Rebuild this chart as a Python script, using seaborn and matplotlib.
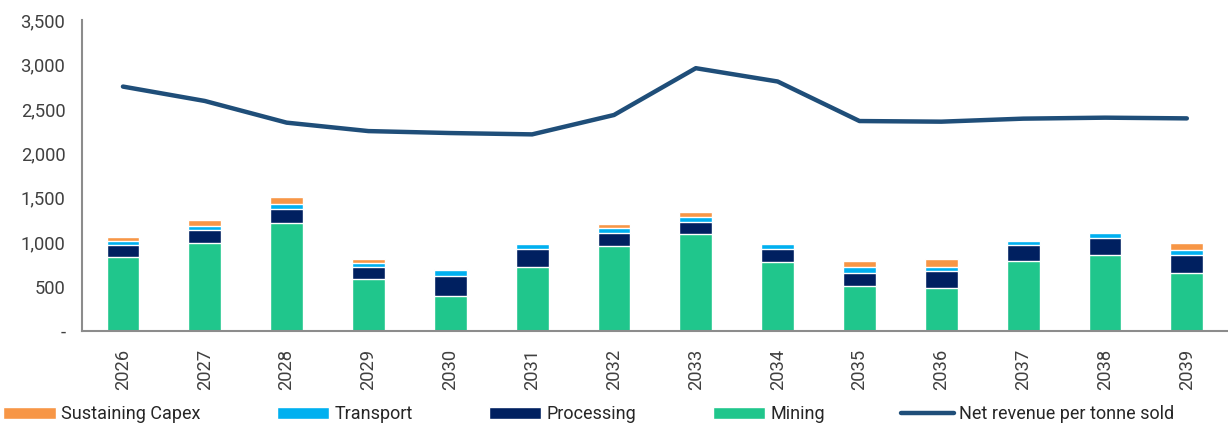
import numpy as np
import pandas as pd
import matplotlib
matplotlib.use("Agg")
import matplotlib.pyplot as plt
import seaborn as sns
from matplotlib.ticker import FuncFormatter
from matplotlib.patches import Patch
from matplotlib.lines import Line2D

years = ["2026", "2027", "2028", "2029", "2030", "2031", "2032",
         "2033", "2034", "2035", "2036", "2037", "2038", "2039"]
mining = [835, 986, 1211, 587, 395, 715, 960, 1095, 779, 512, 489, 790, 858, 655]
processing = [128, 147, 166, 128, 229, 211, 146, 136, 147, 146, 181, 173, 184, 200]
transport = [53, 52, 49, 53, 57, 56, 49, 56, 48, 57, 49, 53, 61, 52]
sustaining_capex = [42, 65, 83, 41, 16, 0, 53, 57, 20, 75, 94, 11, 0, 87]
net_revenue = [2751, 2589, 2345, 2250, 2228, 2213, 2431, 2958, 2808, 2363, 2356, 2390, 2401, 2393]

series_names = ["Mining", "Processing", "Transport", "Sustaining Capex"]
colors = {
    "Mining": "#20C68C",
    "Processing": "#002060",
    "Transport": "#00B0F0",
    "Sustaining Capex": "#F79646",
}
line_color = "#1F4E79"

sns.set_theme(style="white")
plt.rcParams["font.family"] = ["Roboto", "DejaVu Sans"]

df = pd.DataFrame({
    "year": years,
    "Mining": mining,
    "Processing": processing,
    "Transport": transport,
    "Sustaining Capex": sustaining_capex,
    "Net revenue": net_revenue,
})
cum = df[series_names].cumsum(axis=1)

fig = plt.figure(figsize=(12.28, 4.26), dpi=100)
ax = fig.add_axes([0.0668, 0.223, 0.933, 0.730])

# stacked bars: draw cumulative totals from top series down
for name in reversed(series_names):
    sns.barplot(x=df["year"], y=cum[name], color=colors[name], width=0.4,
                saturation=1, ax=ax, order=years)

sns.lineplot(x=np.arange(len(years)), y=df["Net revenue"], color=line_color,
             linewidth=3.2, ax=ax, solid_capstyle="round")

ax.set_xlim(-0.5, len(years) - 0.5)
ax.set_ylim(0, 3500)
ax.set_yticks(np.arange(0, 3501, 500))
ax.yaxis.set_major_formatter(FuncFormatter(lambda v, p: "-" if v == 0 else f"{v:,.0f}"))
ax.set_xlabel("")
ax.set_ylabel("")

for s in ["top", "right"]:
    ax.spines[s].set_visible(False)
for s in ["left", "bottom"]:
    ax.spines[s].set_color("#8C8C8C")
    ax.spines[s].set_linewidth(1.5)

ax.tick_params(axis="y", length=0, pad=12, labelsize=13.2, labelcolor="#404040")
ax.tick_params(axis="x", length=0, pad=13, labelsize=13.2, labelcolor="#404040",
               rotation=90)

handles = [
    Patch(facecolor=colors["Sustaining Capex"], label="Sustaining Capex"),
    Patch(facecolor=colors["Transport"], label="Transport"),
    Patch(facecolor=colors["Processing"], label="Processing"),
    Patch(facecolor=colors["Mining"], label="Mining"),
    Line2D([0], [0], color=line_color, linewidth=3.2, solid_capstyle="round",
           label="Net revenue per tonne sold"),
]
fig.legend(handles=handles, loc="lower left", bbox_to_anchor=(-0.0105, -0.032),
           ncol=5, frameon=False, fontsize=13, handlelength=2.9,
           handleheight=0.6, handletextpad=0.3, columnspacing=4.22,
           labelcolor="#262626")

fig.savefig("out.png", dpi=100)
